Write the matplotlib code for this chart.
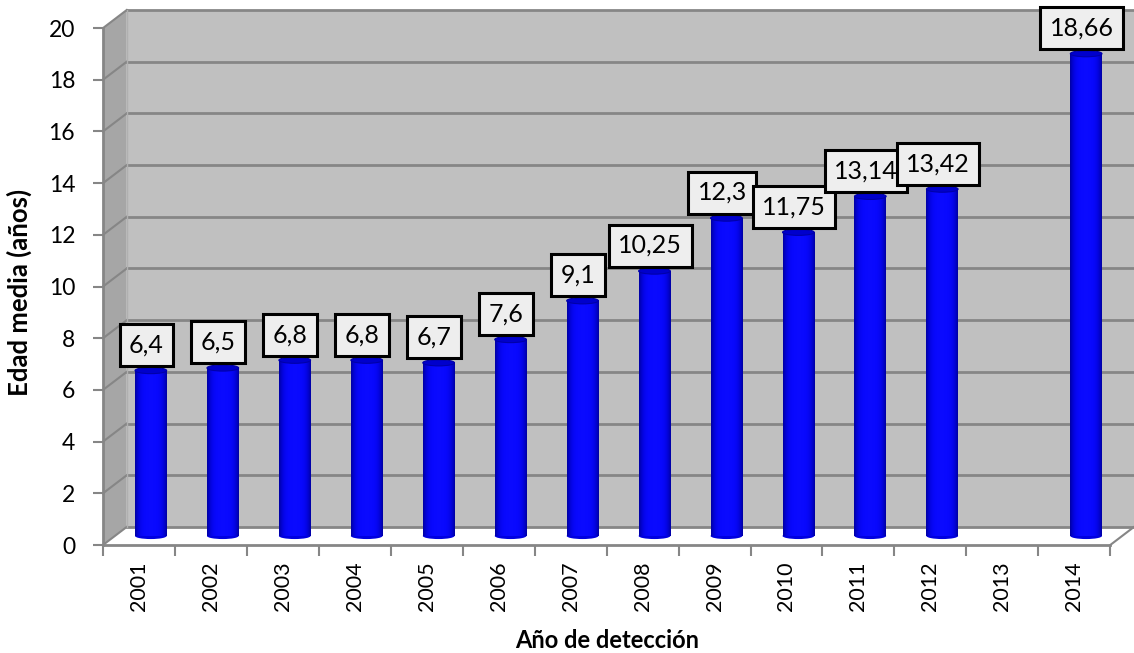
import numpy as np
import matplotlib
matplotlib.use('Agg')
import matplotlib.pyplot as plt
from matplotlib.patches import Polygon, Ellipse

plt.rcParams['font.family'] = ['Lato', 'DejaVu Sans']

years = ['2001', '2002', '2003', '2004', '2005', '2006', '2007',
         '2008', '2009', '2010', '2011', '2012', '2013', '2014']
edad = [6.4, 6.5, 6.8, 6.8, 6.7, 7.6, 9.1, 10.25, 12.3, 11.75, 13.14, 13.42, None, 18.66]
labels = ['6,4', '6,5', '6,8', '6,8', '6,7', '7,6', '9,1', '10,25', '12,3',
          '11,75', '13,14', '13,42', '', '18,66']
y_ticks = list(range(0, 21, 2))

# fake 3d depth (in data units)
dx = 0.33
dy = 0.7
ymax = 20
ncat = len(years)
grid_col = '#868686'


def draw_walls(ax):
    xmax = ncat + dx
    # side wall
    ax.add_patch(Polygon([(0, 0), (dx, dy), (dx, ymax + dy), (0, ymax)],
                         closed=True, fc='#a6a6a6', ec='none', zorder=0))
    # back wall
    ax.add_patch(Polygon([(dx, dy), (xmax, dy), (xmax, ymax + dy), (dx, ymax + dy)],
                         closed=True, fc='#c0c0c0', ec='none', zorder=0))
    # floor
    ax.add_patch(Polygon([(0, 0), (ncat, 0), (xmax, dy), (dx, dy)],
                         closed=True, fc='white', ec='none', zorder=0))
    for v in y_ticks:
        ax.plot([dx, xmax], [v + dy, v + dy], color=grid_col, lw=2, zorder=1,
                clip_on=False)
        ax.plot([0, dx], [v, v + dy], color=grid_col, lw=1.5, zorder=1,
                clip_on=False)
    ax.plot([dx, dx], [dy, ymax + dy], color='#b0b0b0', lw=1, zorder=1)
    # front axis lines
    ax.plot([0, 0], [0, ymax], color=grid_col, lw=2, zorder=2, clip_on=False)
    ax.plot([0, ncat], [0, 0], color=grid_col, lw=2, zorder=2, clip_on=False)
    ax.plot([ncat, xmax], [0, dy], color=grid_col, lw=1.5, zorder=2, clip_on=False)


def draw_bars(ax):
    w = 0.44
    eh = 0.24
    shade = np.linspace(-1, 1, 40)
    b = 1.0 - 0.35 * shade ** 4
    grad = np.zeros((1, 40, 3))
    grad[0, :, 2] = b
    grad[0, :, 0] = 0.04 * (1 - shade ** 2)
    grad[0, :, 1] = 0.04 * (1 - shade ** 2)
    base = dy / 2
    fs = 18
    pad = 0.38
    for i, v in enumerate(edad):
        if v is None:
            continue
        xc = i + 0.5 + dx / 2
        top = v + base
        ax.add_patch(Ellipse((xc, base), w, eh, fc='#0000e0', ec='none', zorder=3))
        ax.imshow(grad, extent=[xc - w / 2, xc + w / 2, base, top],
                  aspect='auto', zorder=4, interpolation='bilinear')
        ax.add_patch(Ellipse((xc, top), w, eh, fc='#0000cc', ec='#0000a8',
                             lw=0.8, zorder=5))
        ax.annotate(labels[i], (xc - 0.06, top + eh / 2), xytext=(0, pad * fs + 1),
                    textcoords='offset points', ha='center', va='bottom',
                    fontsize=fs, zorder=7,
                    bbox=dict(boxstyle='square,pad=%.2f' % pad, fc='#eeeeee',
                              ec='black', lw=2.2))


def main():
    fig = plt.figure(figsize=(11.34, 6.53), dpi=100)
    ax = fig.add_axes([103 / 1134, 108 / 653, 1031 / 1134, 535 / 653])
    ax.set_xlim(0, ncat + dx)
    ax.set_ylim(0, ymax + dy)
    for s in ax.spines.values():
        s.set_visible(False)

    draw_walls(ax)
    draw_bars(ax)

    ax.set_yticks(y_ticks)
    ax.set_yticklabels([str(t) for t in y_ticks])
    ax.tick_params(axis='y', length=7, width=1.5, color=grid_col, pad=13,
                   labelsize=16.5)
    ax.set_xticks(range(ncat + 1))
    ax.set_xticklabels([])
    ax.set_xticks(np.arange(ncat) + 0.5, minor=True)
    ax.set_xticklabels(years, minor=True, rotation=90)
    ax.tick_params(axis='x', which='major', length=8, width=1.5, color=grid_col)
    ax.tick_params(axis='x', which='minor', length=0, pad=12, labelsize=15.5)

    fig.text(607 / 1134, 12 / 653, 'Año de detección', ha='center', va='center',
             fontsize=17, fontweight='bold')
    fig.text(19 / 1134, 1 - 292 / 653, 'Edad media (años)', ha='center',
             va='center', rotation=90, fontsize=18.5, fontweight='bold')

    fig.savefig('out.png', dpi=100)


main()
